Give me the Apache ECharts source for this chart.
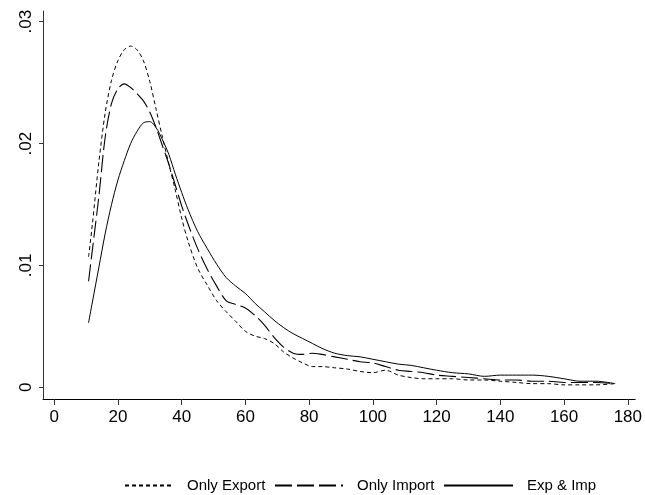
<!DOCTYPE html>
<html>
<head>
<meta charset="utf-8">
<script src="https://cdn.jsdelivr.net/npm/echarts@6/dist/echarts.min.js"></script>
<style>
  html, body { margin: 0; padding: 0; background: #fff; }
  #chart { width: 645px; height: 495px; }
</style>
</head>
<body>
<div id="chart"></div>
<script>
// kernel density, common x grid
var xs = [10.8, 12, 14, 16, 18, 20, 22, 24, 26, 28, 30, 32, 34, 36, 38, 40, 42, 45, 48, 51, 54, 57, 60, 63, 66, 69, 72, 75, 78, 81, 84, 88, 92, 96, 100, 104, 108, 112, 116, 120, 125, 130, 135, 140, 145, 150, 155, 160, 165, 170, 176];

var onlyExport = [.0107, .0134, .0184, .0225, .0252, .0268, .0277, .0280, .0277, .0268, .0251, .0228, .0205, .0183, .0162, .0139, .0120, .0098, .0084, .0071, .0062, .0054, .0046, .0042, .0040, .0036, .0029, .0024, .0020, .0017, .0017, .0016, .0015, .0013, .0012, .0014, .0010, .0008, .0007, .0007, .0007, .0006, .0006, .0005, .0004, .0003, .0003, .0002, .0002, .0002, .0003];

var onlyImport = [.0087, .0113, .0156, .0205, .0233, .0245, .0249, .0246, .0241, .0235, .0226, .0213, .0198, .0183, .0166, .0149, .0134, .0114, .0097, .0083, .0071, .0068, .0065, .0059, .0051, .0041, .0033, .0028, .0027, .0028, .0027, .0025, .0023, .0021, .0020, .0017, .0014, .0013, .0012, .0010, .0009, .0008, .0007, .0006, .0006, .0005, .0005, .0004, .0004, .0004, .0003];

var expImp = [.0053, .0070, .0098, .0126, .0150, .0170, .0186, .0200, .0210, .0217, .0218, .0213, .0203, .0191, .0175, .0160, .0146, .0128, .0114, .0101, .0090, .0083, .0077, .0069, .0062, .0055, .0049, .0044, .0040, .0036, .0032, .0028, .0026, .0025, .0023, .0021, .0019, .0018, .0016, .0014, .0012, .0011, .0009, .0010, .0010, .0010, .0009, .0007, .0005, .0005, .0003];

var xTicks = [0, 20, 40, 60, 80, 100, 120, 140, 160, 180];
var yTicks = [0, 0.01, 0.02, 0.03];
var yTickLabels = ['0', '.01', '.02', '.03'];

function pairs(ys) {
  return xs.map(function (x, i) { return [x, ys[i]]; });
}

var chart = echarts.init(document.getElementById('chart'));
var font = '"Liberation Sans", Arial, sans-serif';

function legendAt(name, left, w) {
  return {
    data: [name], left: left, top: 473, itemWidth: w, itemHeight: 10,
    itemStyle: { opacity: 0 },
    textStyle: { fontFamily: font, fontSize: 15, color: '#000', padding: [0, 0, 0, 9] }
  };
}

var option = {
  animation: false,
  backgroundColor: '#fff',
  grid: { left: 43, right: 2, top: 11, bottom: 96 },
  legend: [
    legendAt('Only Export', 119, 48),
    legendAt('Only Import', 269, 68),
    legendAt('Exp & Imp', 438, 69)
  ],
  xAxis: {
    type: 'value', min: -3.5, max: 182.3,
    splitLine: { show: false },
    axisLine: { onZero: false, lineStyle: { color: '#000', width: 1 } },
    axisTick: { customValues: xTicks, length: 6, lineStyle: { color: '#333' } },
    axisLabel: { customValues: xTicks, margin: 10, fontFamily: font, fontSize: 17, color: '#000' }
  },
  yAxis: {
    type: 'value', min: -0.00096, max: 0.03088,
    splitLine: { show: false },
    axisLine: { show: true, onZero: false, lineStyle: { color: '#333', width: 1 } },
    axisTick: { show: true, customValues: yTicks, length: 4, lineStyle: { color: '#333' } },
    axisLabel: {
      customValues: yTicks, rotate: 90, margin: 8,
      fontFamily: font, fontSize: 17, color: '#000',
      formatter: function (v) { return yTickLabels[yTicks.indexOf(Math.round(v * 100) / 100)]; }
    }
  },
  series: [
    { name: 'Only Export', type: 'line', data: pairs(onlyExport), symbol: 'none', smooth: 0.3,
      lineStyle: { color: '#000', width: 1, type: [4, 3] }, itemStyle: { color: '#000' } },
    { name: 'Only Import', type: 'line', data: pairs(onlyImport), symbol: 'none', smooth: 0.3,
      lineStyle: { color: '#000', width: 1.1, type: [17, 5] }, itemStyle: { color: '#000' } },
    { name: 'Exp & Imp', type: 'line', data: pairs(expImp), symbol: 'none', smooth: 0.3,
      lineStyle: { color: '#000', width: 1, type: 'solid' }, itemStyle: { color: '#000' } }
  ]
};

chart.setOption(option);
</script>
</body>
</html>
